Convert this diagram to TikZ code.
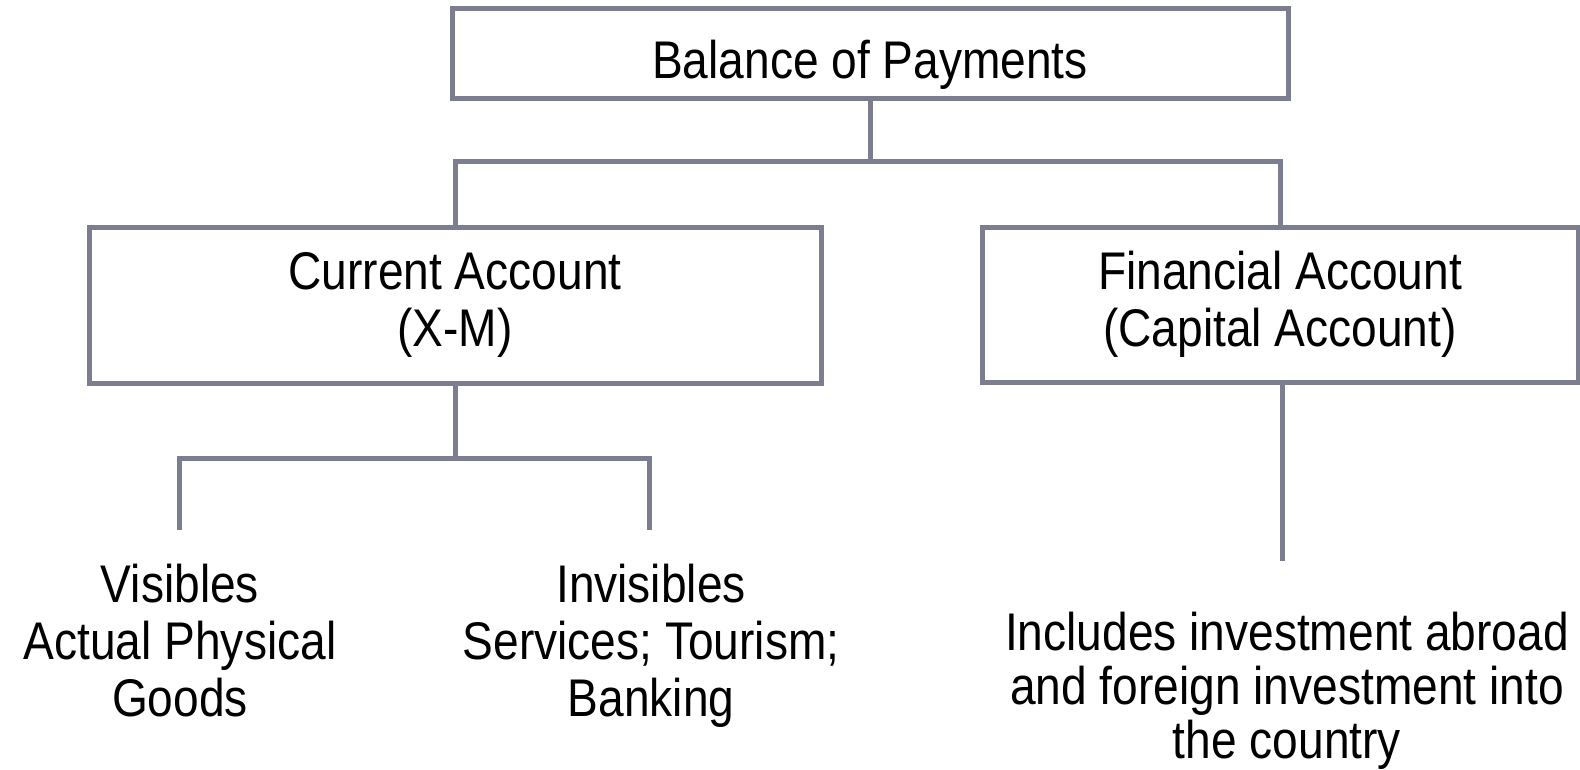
\documentclass[tikz,border=0pt]{standalone}
\usepackage{fontspec}
\setmainfont{Liberation Sans}[FakeStretch=0.87]
\definecolor{linegray}{RGB}{124,126,143}
\begin{document}
\begin{tikzpicture}[x=1pt,y=-1pt,
  box/.style={draw=linegray, line width=5pt, fill=white, inner sep=0pt, align=center,
    font=\fontsize{53}{57}\selectfont},
  conn/.style={draw=linegray, line width=5pt},
  txt/.style={inner sep=0pt, font=\fontsize{53}{57}\selectfont},
  lbl/.style={inner sep=0pt, align=center, anchor=north, font=\fontsize{53}{57}\selectfont}]
\useasboundingbox (0,0) rectangle (1580,769);
\node[box, minimum width=836pt, minimum height=90pt] (bop) at (870,53) {};
\node[txt, anchor=base] (boptxt) at (870,78) {Balance of Payments};
\node[box, minimum width=732pt, minimum height=156pt] (ca) at (455,305) {Current Account\\(X-M)};
\node[box, minimum width=596pt, minimum height=155pt] (fa) at (1280,304.5) {Financial Account\\(Capital Account)};
\node[lbl] (vis) at (180,564) {Visibles\\Actual Physical\\Goods};
\node[lbl] (invis) at (651,564) {Invisibles\\Services; Tourism;\\Banking};
\node[lbl, font=\fontsize{53}{54}\selectfont] (inc) at (1287,612) {Includes investment abroad\\and foreign investment into\\the country};
\coordinate (j1) at (870,161);
\coordinate (j2) at (455,458);
\coordinate (ev) at (179,530);
\coordinate (ei) at (649,530);
\coordinate (ef) at (1282,561);
\draw[conn] (bop.south) -- (j1);
\draw[conn] (ca.north) |- (j1) -| (fa.north);
\draw[conn] (ca.south) -- (j2);
\draw[conn] (ev) |- (j2) -| (ei);
\draw[conn] (ef |- fa.south) -- (ef);
\end{tikzpicture}
\end{document}
